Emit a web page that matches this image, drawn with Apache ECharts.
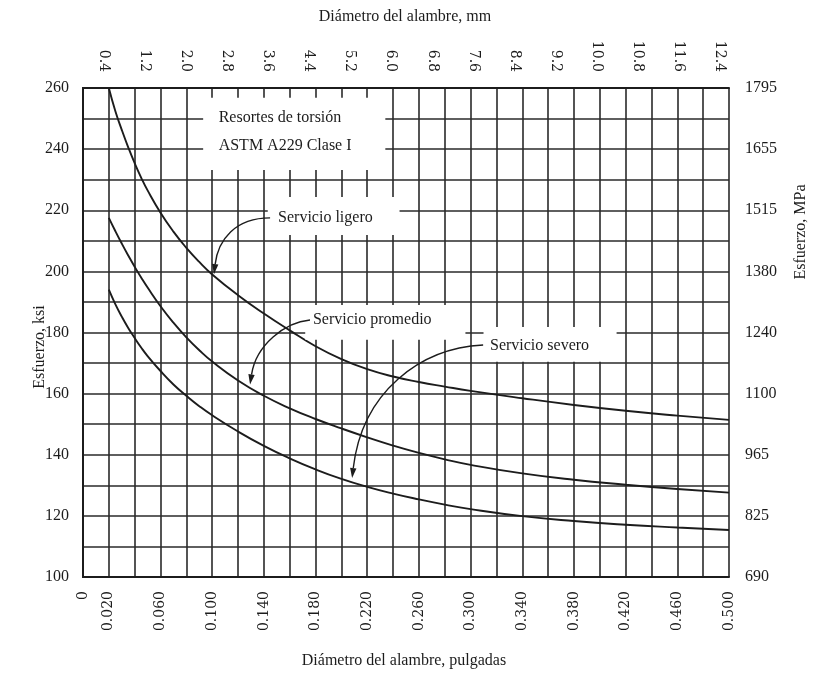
<!DOCTYPE html>
<html>
<head>
<meta charset="utf-8">
<script src="https://cdn.jsdelivr.net/npm/echarts@6/dist/echarts.min.js"></script>
<style>
  html, body { margin: 0; padding: 0; background: #fff; }
  #chart { width: 823px; height: 676px; }
</style>
</head>
<body>
<div id="chart"></div>
<script>
// Wire diameter (inches) at which the allowable torsion stress is sampled
const diameterIn = [0.020, 0.025, 0.030, 0.035, 0.040, 0.045, 0.050, 0.060, 0.070, 0.080,
  0.090, 0.100, 0.120, 0.140, 0.160, 0.180, 0.200, 0.220, 0.240, 0.260,
  0.280, 0.300, 0.340, 0.380, 0.420, 0.460, 0.500];

// Allowable stress, ksi
const lightService = [260, 252.5, 246.3, 240.6, 235.4, 230.7, 226.5, 219.2, 213.0, 207.7,
  203.1, 199.0, 192.2, 186.2, 180.7, 175.5, 171.3, 168.0, 165.6, 163.8,
  162.3, 160.9, 158.5, 156.3, 154.4, 152.8, 151.4];
const averageService = [217.5, 213.2, 209.1, 205.2, 201.5, 198.0, 194.7, 188.6, 183.2, 178.4,
  174.2, 170.5, 164.3, 159.3, 155.2, 151.7, 148.6, 145.7, 143.0, 140.6,
  138.5, 136.7, 133.9, 131.8, 130.2, 128.8, 127.6];
const severeService = [194, 189.3, 185.2, 181.5, 178.2, 175.1, 172.3, 167.4, 163.0, 159.3,
  155.9, 152.9, 147.6, 142.9, 138.8, 135.2, 132.1, 129.5, 127.3, 125.4,
  123.7, 122.2, 119.9, 118.3, 117.1, 116.2, 115.4];

// Tick labels
const mmTicks = [0.4, 1.2, 2.0, 2.8, 3.6, 4.4, 5.2, 6.0, 6.8, 7.6, 8.4, 9.2, 10.0, 10.8, 11.6, 12.4];
const ksiTicks = [100, 120, 140, 160, 180, 200, 220, 240, 260];
const mpaTicks = [690, 825, 965, 1100, 1240, 1380, 1515, 1655, 1795];

const SERIF = '"Liberation Serif", "Times New Roman", serif';
const TICKFONT = '"DejaVu Serif", serif';
const INK = '#1c1c1c';
const GRIDLINE = { show: true, lineStyle: { color: '#2a2a2a', width: 1.6 } };
const FRAME = { show: true, lineStyle: { color: INK, width: 2 } };

const pairs = arr => diameterIn.map((d, i) => [d, arr[i]]);

const chart = echarts.init(document.getElementById('chart'), null, { renderer: 'canvas' });

const curve = (name, arr) => ({
  name, type: 'line', data: pairs(arr),
  xAxisIndex: 0, yAxisIndex: 0,
  smooth: 0.5, showSymbol: false,
  lineStyle: { color: INK, width: 1.9 }, z: 5
});

chart.setOption({
  animation: false,
  backgroundColor: '#fff',
  grid: { left: 83, right: 94, top: 88, bottom: 99 },
  xAxis: [
    {
      type: 'value', position: 'bottom', min: 0, max: 0.5, interval: 0.02,
      axisLine: FRAME, axisTick: { show: false }, splitLine: GRIDLINE,
      axisLabel: {
        rotate: 90, margin: 14, fontFamily: TICKFONT, fontSize: 14, color: INK,
        formatter: v => {
          const k = Math.round(v * 1000);
          if (k === 0) return '0';
          return (k % 40 === 20) ? (k / 1000).toFixed(3) : '';
        }
      }
    },
    {
      type: 'value', position: 'top', min: 0, max: 12.58,
      axisLine: FRAME, axisTick: { show: false }, splitLine: { show: false },
      axisLabel: {
        customValues: mmTicks, rotate: 90, margin: 16,
        fontFamily: TICKFONT, fontSize: 14, color: INK,
        formatter: v => v.toFixed(1)
      }
    }
  ],
  yAxis: [
    {
      type: 'value', position: 'left', min: 100, max: 260, interval: 10,
      axisLine: FRAME, axisTick: { show: false }, splitLine: GRIDLINE,
      axisLabel: {
        margin: 14, fontFamily: SERIF, fontSize: 16, color: INK,
        formatter: v => ksiTicks.includes(v) ? String(v) : ''
      }
    },
    {
      type: 'value', position: 'right', min: 100, max: 260, interval: 10,
      axisLine: FRAME, axisTick: { show: false }, splitLine: { show: false },
      axisLabel: {
        margin: 16, fontFamily: SERIF, fontSize: 16, color: INK,
        formatter: v => {
          const i = ksiTicks.indexOf(v);
          return i >= 0 ? String(mpaTicks[i]) : '';
        }
      }
    }
  ],
  series: [
    curve('Servicio ligero', lightService),
    curve('Servicio promedio', averageService),
    curve('Servicio severo', severeService)
  ]
});

// Annotations, placed in data coordinates (inches, ksi)
const P = (x, y) => chart.convertToPixel({ xAxisIndex: 0, yAxisIndex: 0 }, [x, y]);

function whiteBox(x0, y0, x1, y1) {
  const a = P(x0, y0), b = P(x1, y1);
  return {
    type: 'rect', z: 20,
    shape: { x: a[0], y: a[1], width: b[0] - a[0], height: b[1] - a[1] },
    style: { fill: '#fff' }
  };
}
function label(text, x, y) {
  const p = P(x, y);
  return {
    type: 'text', z: 30, x: p[0], y: p[1],
    style: { text, font: '16px ' + SERIF, fill: INK, verticalAlign: 'middle', align: 'left' }
  };
}
function arrow(p0, p1, p2, p3) {
  const a = P(...p0), b = P(...p1), c = P(...p2), d = P(...p3);
  const ang = Math.atan2(d[1] - c[1], d[0] - c[0]);
  const len = 10, half = 3.2;
  const bx = d[0] - len * Math.cos(ang), by = d[1] - len * Math.sin(ang);
  const nx = -Math.sin(ang) * half, ny = Math.cos(ang) * half;
  return [
    {
      type: 'bezierCurve', z: 30,
      shape: { x1: a[0], y1: a[1], cpx1: b[0], cpy1: b[1], cpx2: c[0], cpy2: c[1], x2: bx, y2: by },
      style: { stroke: INK, lineWidth: 1.4, fill: null }
    },
    {
      type: 'polygon', z: 30,
      shape: { points: [[d[0], d[1]], [bx + nx, by + ny], [bx - nx, by - ny]] },
      style: { fill: INK }
    }
  ];
}

function axisTitle(text, x, y, rot) {
  return {
    type: 'text', z: 30, x, y, rotation: rot,
    style: { text, font: '16px ' + SERIF, fill: INK, align: 'center', verticalAlign: 'middle' }
  };
}

chart.setOption({
  graphic: [
    whiteBox(0.093, 256.8, 0.234, 233.2),
    label('Resortes de torsión', 0.105, 250.3),
    label('ASTM A229 Clase I', 0.105, 241.2),

    whiteBox(0.143, 224.3, 0.245, 211.9),
    label('Servicio ligero', 0.151, 217.5),
    ...arrow([0.1448, 217.5], [0.1177, 217.5], [0.1045, 210.3], [0.1014, 199.1]),

    whiteBox(0.172, 189.0, 0.296, 177.6),
    label('Servicio promedio', 0.178, 184.3),
    ...arrow([0.1757, 184.1], [0.1564, 183.4], [0.1339, 175.9], [0.1293, 163.0]),

    whiteBox(0.310, 181.8, 0.413, 170.4),
    label('Servicio severo', 0.315, 175.8),
    ...arrow([0.3097, 175.9], [0.2609, 174.9], [0.216, 160.5], [0.2083, 132.4]),

    axisTitle('Diámetro del alambre, mm', 405, 17, 0),
    axisTitle('Diámetro del alambre, pulgadas', 404, 661, 0),
    axisTitle('Esfuerzo, ksi', 40, 347, Math.PI / 2),
    axisTitle('Esfuerzo, MPa', 801, 232, Math.PI / 2)
  ]
});
</script>
</body>
</html>
